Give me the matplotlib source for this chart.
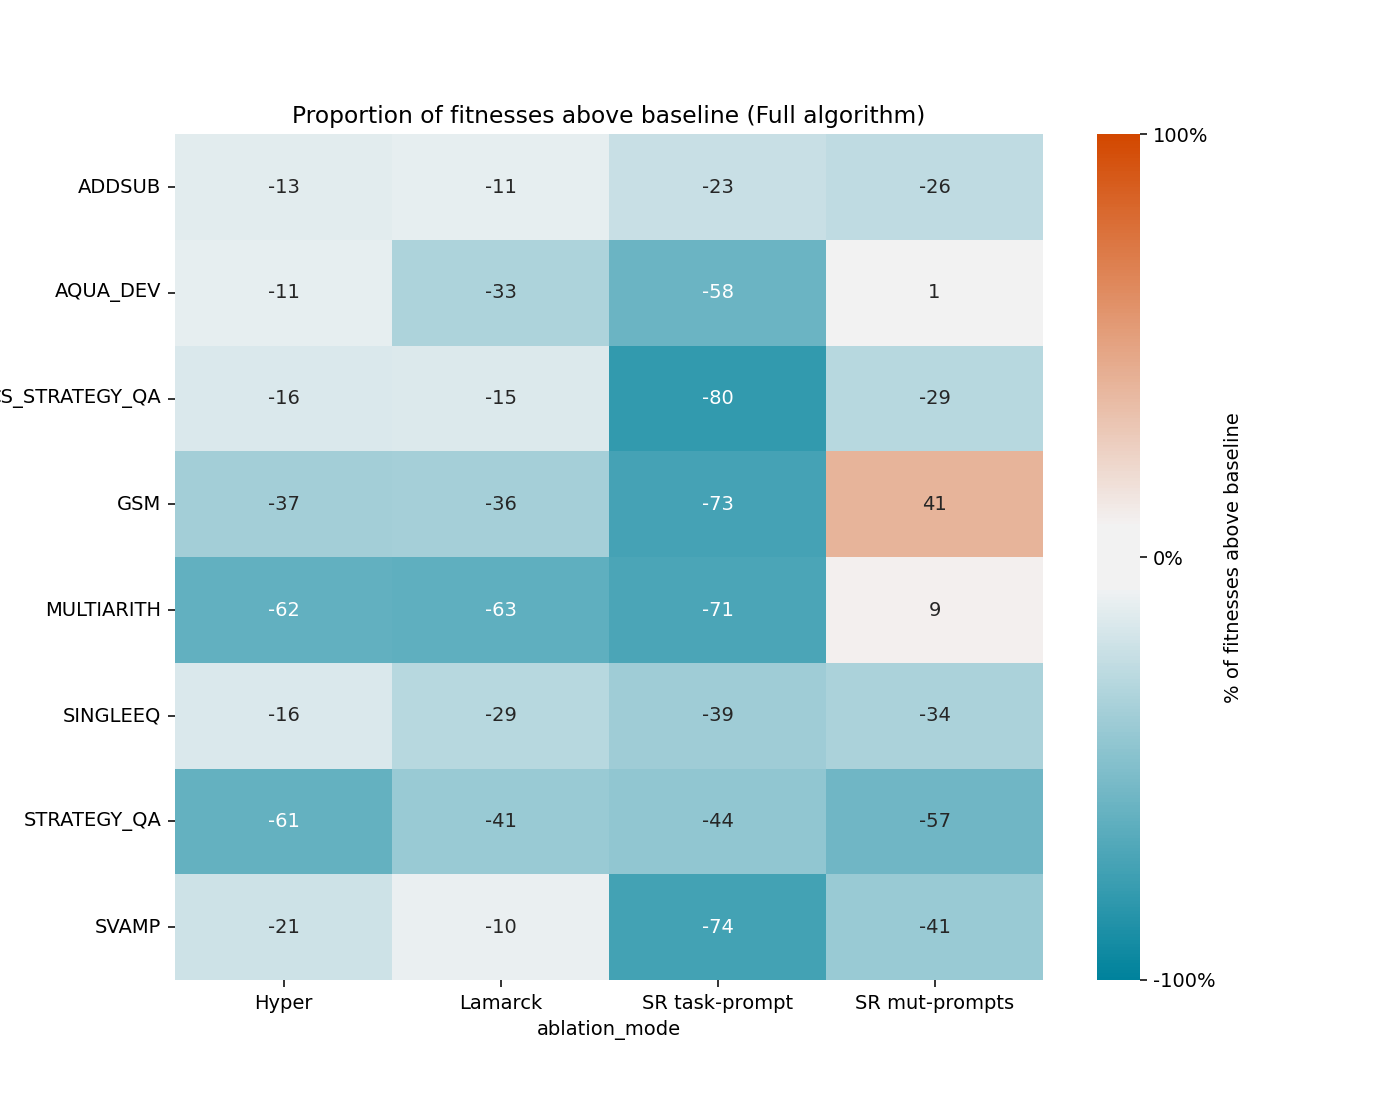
import matplotlib
matplotlib.use("Agg")
import matplotlib.pyplot as plt
import seaborn as sns
import numpy as np
import pandas as pd
from matplotlib.ticker import FuncFormatter

datasets = ["ADDSUB", "AQUA_DEV", "CS_STRATEGY_QA", "GSM", "MULTIARITH",
            "SINGLEEQ", "STRATEGY_QA", "SVAMP"]
modes = ["Hyper", "Lamarck", "SR task-prompt", "SR mut-prompts"]

hyper = [-13, -11, -16, -37, -62, -16, -61, -21]
lamarck = [-11, -33, -15, -36, -63, -29, -41, -10]
sr_task = [-23, -58, -80, -73, -71, -39, -44, -74]
sr_mut = [-26, 1, -29, 41, 9, -34, -57, -41]

df = pd.DataFrame({modes[0]: hyper, modes[1]: lamarck,
                   modes[2]: sr_task, modes[3]: sr_mut}, index=datasets)
df.index.name = "dataset"
df.columns.name = "ablation_mode"

fig, ax = plt.subplots(figsize=(10, 8), dpi=140)
fig.subplots_adjust(bottom=0.125, top=0.88)
cmap = sns.diverging_palette(220, 20, s=100, l=50, sep=20, as_cmap=True)
sns.heatmap(df, ax=ax, cmap=cmap, vmin=-100, vmax=100, center=0,
            annot=True, fmt=".0f",
            cbar_kws={"label": "% of fitnesses above baseline",
                      "ticks": [-100, 0, 100],
                      "format": FuncFormatter(lambda v, p: f"{v:.0f}%")})
ax.set_title("Proportion of fitnesses above baseline (Full algorithm)", fontsize=12)
ax.set_ylabel("")
ax.set_xlabel("ablation_mode")
ax.tick_params(axis="y", rotation=0)
ax.tick_params(axis="x", rotation=0)
fig.savefig("out.png", dpi=140)
